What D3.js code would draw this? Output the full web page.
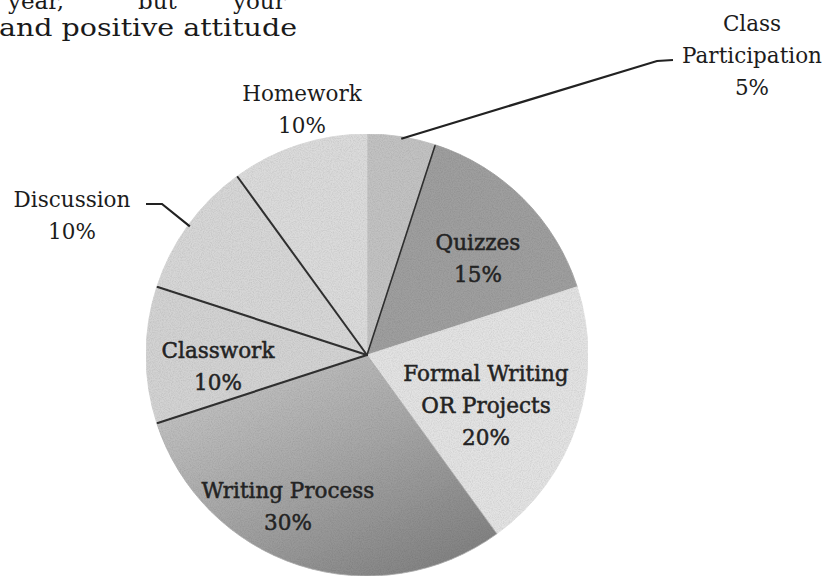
<!DOCTYPE html>
<html>
<head>
<meta charset="utf-8">
<script src="https://cdn.jsdelivr.net/npm/d3@7/dist/d3.min.js"></script>
<style>
  html, body { margin: 0; padding: 0; background: #fff; }
  svg { display: block; }
</style>
</head>
<body>
<div id="chart"></div>
<script>
// grading categories, clockwise from 12 o'clock
const categories = ['Class Participation', 'Quizzes', 'Formal Writing OR Projects',
  'Writing Process', 'Classwork', 'Discussion', 'Homework'];
const percents = [5, 15, 20, 30, 10, 10, 10];
// label lines as printed
const labelLines = [
  ['Class', 'Participation', '5%'],
  ['Quizzes', '15%'],
  ['Formal Writing', 'OR Projects', '20%'],
  ['Writing Process', '30%'],
  ['Classwork', '10%'],
  ['Discussion', '10%'],
  ['Homework', '10%']
];
// text fragment of the page above the chart
const pageLine1 = ['year,', 'but', 'your'];
const pageLine2 = 'and positive attitude';

const width = 830, height = 577;
const cx = 367, cy = 355, R = 221;

const fills = {
  'Class Participation': '#c2c2c2',
  'Quizzes': '#9f9f9f',
  'Formal Writing OR Projects': '#e3e3e3',
  'Writing Process': 'url(#wpGrad)',
  'Classwork': '#d3d3d3',
  'Discussion': '#d7d7d7',
  'Homework': '#dbdbdb'
};
// boundaries that carry a drawn line (start edge of these slices)
const ruled = { 'Quizzes': 1.6, 'Classwork': 2.2, 'Discussion': 2.2, 'Homework': 2 };

// label anchors (first-line baseline centre), layout only
const labelAt = {
  'Class Participation': [752, 31],
  'Quizzes': [478, 250],
  'Formal Writing OR Projects': [486, 381],
  'Writing Process': [288, 498],
  'Classwork': [218, 358],
  'Discussion': [72, 207],
  'Homework': [302, 101]
};
const lineGap = 32;

const svg = d3.select('#chart').append('svg')
  .attr('width', width)
  .attr('height', height)
  .attr('viewBox', [0, 0, width, height]);

const defs = svg.append('defs');
const grad = defs.append('linearGradient')
  .attr('id', 'wpGrad')
  .attr('x1', '0%').attr('y1', '0%')
  .attr('x2', '80%').attr('y2', '100%');
grad.append('stop').attr('offset', '0%').attr('stop-color', '#cdcdcd');
grad.append('stop').attr('offset', '55%').attr('stop-color', '#a6a6a6');
grad.append('stop').attr('offset', '100%').attr('stop-color', '#828282');

// grainy scan look
const noise = defs.append('filter').attr('id', 'grain')
  .attr('x', 0).attr('y', 0).attr('width', '100%').attr('height', '100%');
noise.append('feTurbulence')
  .attr('type', 'fractalNoise').attr('baseFrequency', 0.9)
  .attr('numOctaves', 2).attr('seed', 3).attr('result', 'n');
noise.append('feColorMatrix').attr('in', 'n').attr('type', 'matrix')
  .attr('values', '0 0 0 0 0  0 0 0 0 0  0 0 0 0 0  0 0 0 -1.6 1.05')
  .attr('result', 'na');
noise.append('feComposite').attr('in', 'na').attr('in2', 'SourceGraphic')
  .attr('operator', 'in').attr('result', 'nm');
noise.append('feComponentTransfer').attr('in', 'nm').attr('result', 'nf')
  .append('feFuncA').attr('type', 'linear').attr('slope', 0.22);
const merge = noise.append('feMerge');
merge.append('feMergeNode').attr('in', 'SourceGraphic');
merge.append('feMergeNode').attr('in', 'nf');

const data = categories.map((name, i) => ({ name, value: percents[i], lines: labelLines[i] }));

const pie = d3.pie()
  .sort(null)
  .value(d => d.value)
  .startAngle(0)
  .endAngle(2 * Math.PI);
const arcs = pie(data);

const arc = d3.arc().innerRadius(0).outerRadius(R);

const g = svg.append('g').attr('transform', `translate(${cx},${cy})`);

g.append('g')
  .attr('filter', 'url(#grain)')
  .selectAll('path')
  .data(arcs)
  .join('path')
    .attr('d', arc)
    .attr('fill', d => fills[d.data.name])
    .attr('stroke', d => fills[d.data.name].startsWith('url') ? '#b0b0b0' : fills[d.data.name])
    .attr('stroke-width', 0.8);

// drawn radial rules
const pt = (a, r) => [r * Math.sin(a), -r * Math.cos(a)];
g.append('g')
  .selectAll('line')
  .data(arcs.filter(d => ruled[d.data.name]))
  .join('line')
    .attr('x1', 0).attr('y1', 0)
    .attr('x2', d => pt(d.startAngle, R - 1)[0])
    .attr('y2', d => pt(d.startAngle, R - 1)[1])
    .attr('stroke', '#2f2f2f')
    .attr('stroke-width', d => ruled[d.data.name])
    .attr('stroke-linecap', 'round');

// leader lines for outside labels
const leaders = {
  'Class Participation': [[657, 61], [673, 60]],
  'Discussion': [[162, 204], [146, 204]]
};
g.append('g')
  .selectAll('path')
  .data(arcs.filter(d => leaders[d.data.name]))
  .join('path')
    .attr('d', d => {
      const a = (d.startAngle + d.endAngle) / 2;
      const p0 = pt(a, R - 2);
      const rest = leaders[d.data.name].map(([x, y]) => [x - cx, y - cy]);
      return d3.line()([p0, ...rest]);
    })
    .attr('fill', 'none')
    .attr('stroke', '#222')
    .attr('stroke-width', 2.2);

// labels
const inside = new Set(['Quizzes', 'Formal Writing OR Projects', 'Writing Process', 'Classwork']);
const labels = svg.append('g')
  .attr('font-family', '"DejaVu Serif", serif')
  .attr('font-size', 21.5)
  .attr('text-anchor', 'middle');

labels.selectAll('text')
  .data(arcs)
  .join('text')
    .attr('x', d => labelAt[d.data.name][0])
    .attr('y', d => labelAt[d.data.name][1])
    .attr('fill', d => inside.has(d.data.name) ? '#232323' : '#1c1c1c')
    .attr('stroke', d => inside.has(d.data.name) ? '#232323' : 'none')
    .attr('stroke-width', 0.5)
    .each(function(d) {
      const t = d3.select(this);
      d.data.lines.forEach((s, i) => {
        t.append('tspan')
          .attr('x', labelAt[d.data.name][0])
          .attr('dy', i === 0 ? 0 : lineGap)
          .text(s);
      });
    });

// page text above the chart (cut by the top edge, as in the scan)
const page = svg.append('g')
  .attr('font-family', '"DejaVu Serif", serif')
  .attr('fill', '#1a1a1a');
const line1x = [8, 138, 233];
page.selectAll('text.l1')
  .data(pageLine1)
  .join('text')
    .attr('class', 'l1')
    .attr('x', (d, i) => line1x[i])
    .attr('y', 9)
    .attr('font-size', 23)
    .text(d => d);
page.append('text')
  .attr('x', -1)
  .attr('y', 36)
  .attr('font-size', 25)
  .attr('textLength', 298)
  .attr('lengthAdjust', 'spacingAndGlyphs')
  .text(pageLine2);
</script>
</body>
</html>
